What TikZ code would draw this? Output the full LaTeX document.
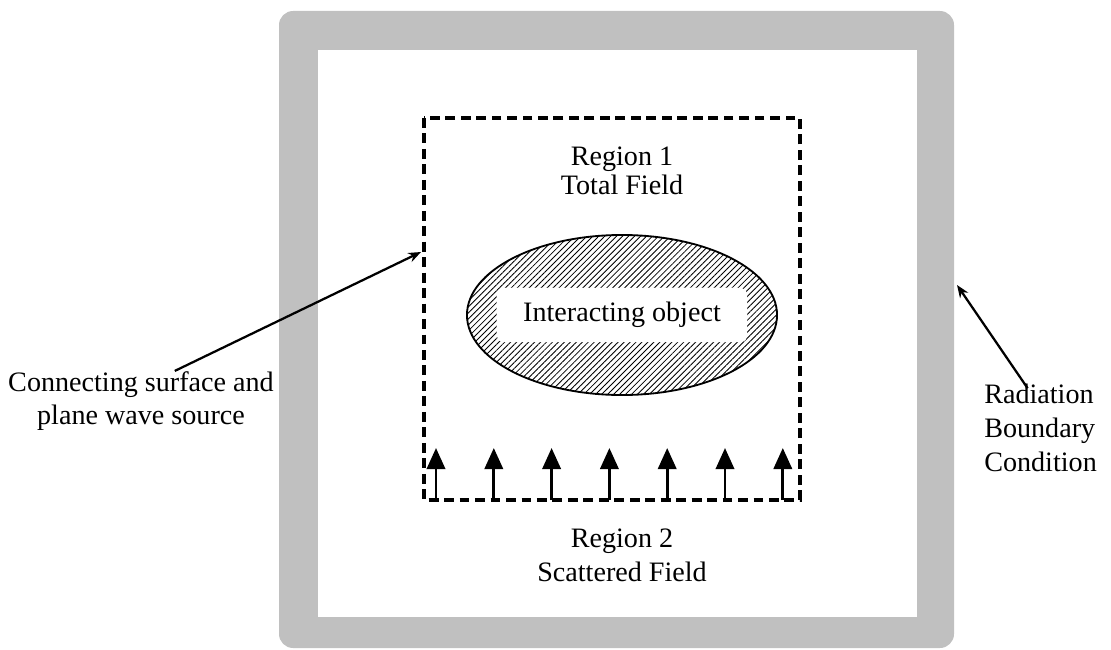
\documentclass[tikz,border=0pt]{standalone}
\usepackage{fontspec}
\setmainfont{Liberation Serif}
\usetikzlibrary{arrows.meta, positioning, patterns.meta, shapes.geometric}
\definecolor{framegray}{RGB}{192,192,192}

\begin{document}
\begin{tikzpicture}[x=0.025cm,y=-0.025cm,
  lbl/.style={font=\fontsize{20}{24}\selectfont, align=center, inner sep=0pt},
  ptr/.style={-{Stealth[length=9pt,width=7pt]}, line width=1.6pt},
  wave/.style={-{Triangle[length=15pt,width=13pt]}, line width=2.1pt},
  ]
	\useasboundingbox (0,0) rectangle (1111,650);

	% radiation boundary frame
	\fill[framegray, rounded corners=10pt] (279,11) rectangle (954,648);
	\fill[white] (318,50) rectangle (917,617);

	% connecting surface
	\draw[line width=2.5pt, dash pattern=on 7pt off 4pt] (424,118) rectangle (800,500);

	% scatterer
	\node[ellipse, draw, line width=1.3pt,
		pattern={Lines[angle=45,distance=3pt,line width=0.6pt]},
		minimum width=7.75cm, minimum height=4cm] (obj) at (622,315) {};
	\node[lbl, fill=white, rounded corners=4pt, minimum width=6.25cm,
		minimum height=1.35cm] (objtxt) at (obj) {Interacting object};

	\node[lbl] (reg1) at (622,171) {Region 1\\[-3pt]Total Field};
	\node[lbl] (reg2) at (622,555) {Region 2\\Scattered Field};

	% plane wave
	\foreach \i in {0,...,6} {
		\coordinate (base\i) at (436+57.8*\i,500);
		\coordinate (tip\i) at (436+57.8*\i,448);
		\draw[wave] (base\i) -- (tip\i);
	}

	% side labels
	\node[lbl] (conn) at (141,401) {Connecting surface and\\plane wave source};
	\coordinate (srcpt) at (421,252);
	\draw[ptr] ([xshift=24pt]conn.north) -- (srcpt);

	\node[lbl, align=left, anchor=north west] (rbc) at (984,384) {Radiation\\Boundary\\Condition};
	\coordinate (rbcpt) at (957,285);
	\draw[ptr] ([xshift=31pt,yshift=-3pt]rbc.north west) -- (rbcpt);
\end{tikzpicture}
\end{document}
